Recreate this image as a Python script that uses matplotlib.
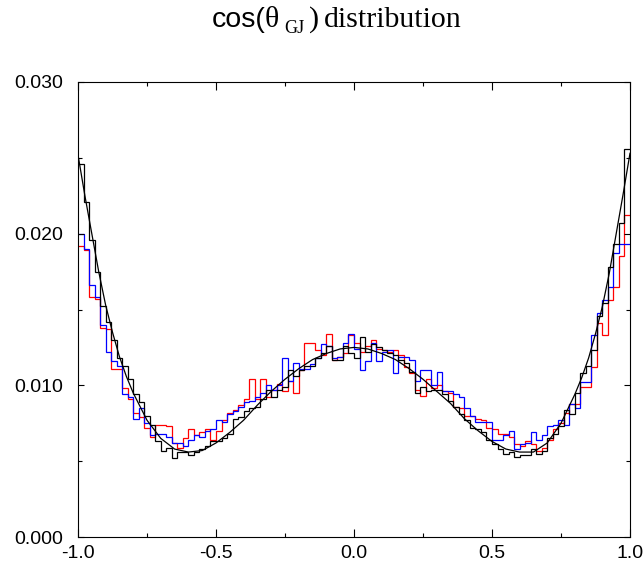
import numpy as np
import matplotlib.pyplot as plt
from matplotlib.ticker import MultipleLocator, FormatStrFormatter

# bin edges: 100 bins between -1 and 1
edges = np.linspace(-1.0, 1.0, 101)

# histogram contents
black = [
    0.0246, 0.0221, 0.0196, 0.0175, 0.0152, 0.0142, 0.0130, 0.0118, 0.0113, 0.0104,
    0.0094, 0.0089, 0.0080, 0.0074, 0.0063, 0.0057, 0.0059, 0.0052, 0.0056, 0.0056,
    0.0054, 0.0056, 0.0058, 0.0060, 0.0063, 0.0063, 0.0065, 0.0068, 0.0078, 0.0079,
    0.0083, 0.0085, 0.0086, 0.0091, 0.0097, 0.0092, 0.0097, 0.0099, 0.0110, 0.0106,
    0.0110, 0.0113, 0.0113, 0.0118, 0.0121, 0.0126, 0.0117, 0.0117, 0.0126, 0.0121,
    0.0118, 0.0132, 0.0122, 0.0127, 0.0125, 0.0123, 0.0121, 0.0120, 0.0117, 0.0115,
    0.0109, 0.0095, 0.0099, 0.0096, 0.0097, 0.0097, 0.0094, 0.0090, 0.0086, 0.0081,
    0.0077, 0.0072, 0.0071, 0.0069, 0.0064, 0.0061, 0.0058, 0.0055, 0.0056, 0.0053,
    0.0054, 0.0054, 0.0058, 0.0055, 0.0057, 0.0065, 0.0068, 0.0073, 0.0084, 0.0081,
    0.0095, 0.0108, 0.0113, 0.0123, 0.0146, 0.0154, 0.0178, 0.0193, 0.0207, 0.0256]

red = [
    0.0192, 0.0189, 0.0158, 0.0157, 0.0138, 0.0137, 0.0111, 0.0111, 0.0098, 0.0091,
    0.0082, 0.0079, 0.0072, 0.0066, 0.0074, 0.0074, 0.0073, 0.0062, 0.0059, 0.0065,
    0.0071, 0.0067, 0.0069, 0.0071, 0.0064, 0.0070, 0.0077, 0.0082, 0.0084, 0.0087,
    0.0091, 0.0104, 0.0091, 0.0104, 0.0092, 0.0097, 0.0101, 0.0096, 0.0103, 0.0095,
    0.0110, 0.0128, 0.0128, 0.0123, 0.0120, 0.0134, 0.0117, 0.0119, 0.0121, 0.0133,
    0.0128, 0.0122, 0.0126, 0.0130, 0.0124, 0.0123, 0.0122, 0.0123, 0.0120, 0.0112,
    0.0108, 0.0097, 0.0093, 0.0104, 0.0098, 0.0100, 0.0096, 0.0095, 0.0086, 0.0085,
    0.0080, 0.0080, 0.0078, 0.0077, 0.0072, 0.0071, 0.0068, 0.0068, 0.0066, 0.0061,
    0.0060, 0.0063, 0.0061, 0.0057, 0.0059, 0.0064, 0.0071, 0.0075, 0.0082, 0.0088,
    0.0088, 0.0099, 0.0099, 0.0112, 0.0141, 0.0133, 0.0156, 0.0165, 0.0185, 0.0212]

blue = [
    0.0200, 0.0190, 0.0166, 0.0158, 0.0140, 0.0122, 0.0116, 0.0113, 0.0094, 0.0092,
    0.0078, 0.0085, 0.0075, 0.0067, 0.0068, 0.0068, 0.0066, 0.0062, 0.0062, 0.0060,
    0.0064, 0.0067, 0.0066, 0.0070, 0.0071, 0.0077, 0.0076, 0.0081, 0.0083, 0.0086,
    0.0089, 0.0090, 0.0092, 0.0095, 0.0100, 0.0097, 0.0100, 0.0118, 0.0103, 0.0115,
    0.0111, 0.0111, 0.0114, 0.0118, 0.0127, 0.0126, 0.0118, 0.0119, 0.0128, 0.0134,
    0.0124, 0.0110, 0.0116, 0.0128, 0.0116, 0.0122, 0.0123, 0.0108, 0.0119, 0.0119,
    0.0117, 0.0103, 0.0110, 0.0110, 0.0100, 0.0109, 0.0096, 0.0096, 0.0094, 0.0092,
    0.0085, 0.0080, 0.0076, 0.0076, 0.0076, 0.0064, 0.0064, 0.0067, 0.0070, 0.0058,
    0.0061, 0.0062, 0.0069, 0.0064, 0.0067, 0.0073, 0.0074, 0.0077, 0.0074, 0.0088,
    0.0085, 0.0102, 0.0102, 0.0133, 0.0148, 0.0156, 0.0165, 0.0187, 0.0193, 0.0193]

curve_x = [-1.0, -0.975, -0.95, -0.925, -0.9, -0.875, -0.85, -0.825, -0.8, -0.75,
           -0.7, -0.65, -0.6, -0.55, -0.5, -0.45, -0.4, -0.35, -0.3, -0.25,
           -0.2, -0.15, -0.1, -0.05, 0.0, 0.05, 0.1, 0.15, 0.2, 0.25,
           0.3, 0.35, 0.4, 0.45, 0.5, 0.55, 0.6, 0.65, 0.7, 0.75,
           0.8, 0.825, 0.85, 0.875, 0.9, 0.925, 0.95, 0.975, 1.0]
curve_y = [0.0252, 0.0225, 0.0200, 0.0175, 0.0153, 0.0135, 0.0119, 0.0106, 0.0095, 0.0077,
           0.0065, 0.0058, 0.0056, 0.0057, 0.0062, 0.0069, 0.0077, 0.0087, 0.0096, 0.0104,
           0.0111, 0.0117, 0.0121, 0.0124, 0.0125, 0.0124, 0.0121, 0.0117, 0.0111, 0.0104,
           0.0096, 0.0088, 0.0078, 0.0070, 0.0063, 0.0058, 0.0056, 0.0056, 0.0062, 0.0075,
           0.0094, 0.0105, 0.0118, 0.0134, 0.0152, 0.0174, 0.0200, 0.0226, 0.0253]

W, H = 643, 566
fig = plt.figure(figsize=(W / 100, H / 100), dpi=100)
ax = fig.add_axes([78 / W, 29 / H, 552 / W, 455 / H])

ax.stairs(red, edges, color='#ff0000', lw=0.9, baseline=None)
ax.stairs(blue, edges, color='#0000ff', lw=0.9, baseline=None)
ax.stairs(black, edges, color='black', lw=0.9, baseline=None)
ax.plot(curve_x, curve_y, color='black', lw=0.9)

ax.set_xlim(-1, 1)
ax.set_ylim(0, 0.030)
ax.xaxis.set_major_locator(MultipleLocator(0.5))
ax.xaxis.set_minor_locator(MultipleLocator(0.25))
ax.yaxis.set_major_locator(MultipleLocator(0.01))
ax.yaxis.set_minor_locator(MultipleLocator(0.005))
ax.xaxis.set_major_formatter(FormatStrFormatter('%.1f'))
ax.yaxis.set_major_formatter(FormatStrFormatter('%.3f'))

ax.tick_params(which='both', direction='in', top=True, right=True, width=0.8,
               labelsize=14)
ax.tick_params(axis='x', which='major', length=6, pad=6)
ax.tick_params(axis='x', which='minor', length=3)
ax.tick_params(axis='y', which='major', length=4, pad=11)
ax.tick_params(axis='y', which='minor', length=3)
for lab in ax.get_xticklabels() + ax.get_yticklabels():
    lab.set_family('Liberation Sans')
for sp in ax.spines.values():
    sp.set_linewidth(0.8)

# title in mixed fonts
base = H - 27
pieces = [
    ('cos(', 'Liberation Sans', 20.5, 212, 0),
    ('\u03b8', 'Liberation Serif', 21.5, 265, 0),
    ('GJ', 'Liberation Serif', 13, 284, -6),
    (')', 'Liberation Serif', 21.5, 309, 0),
    ('distribution', 'Liberation Serif', 21.5, 324, 0),
]
for s, fam, size, x, dy in pieces:
    fig.text(x / W, (base + dy) / H, s, family=fam, fontsize=size,
             ha='left', va='baseline')

fig.savefig('out.png', dpi=100)
